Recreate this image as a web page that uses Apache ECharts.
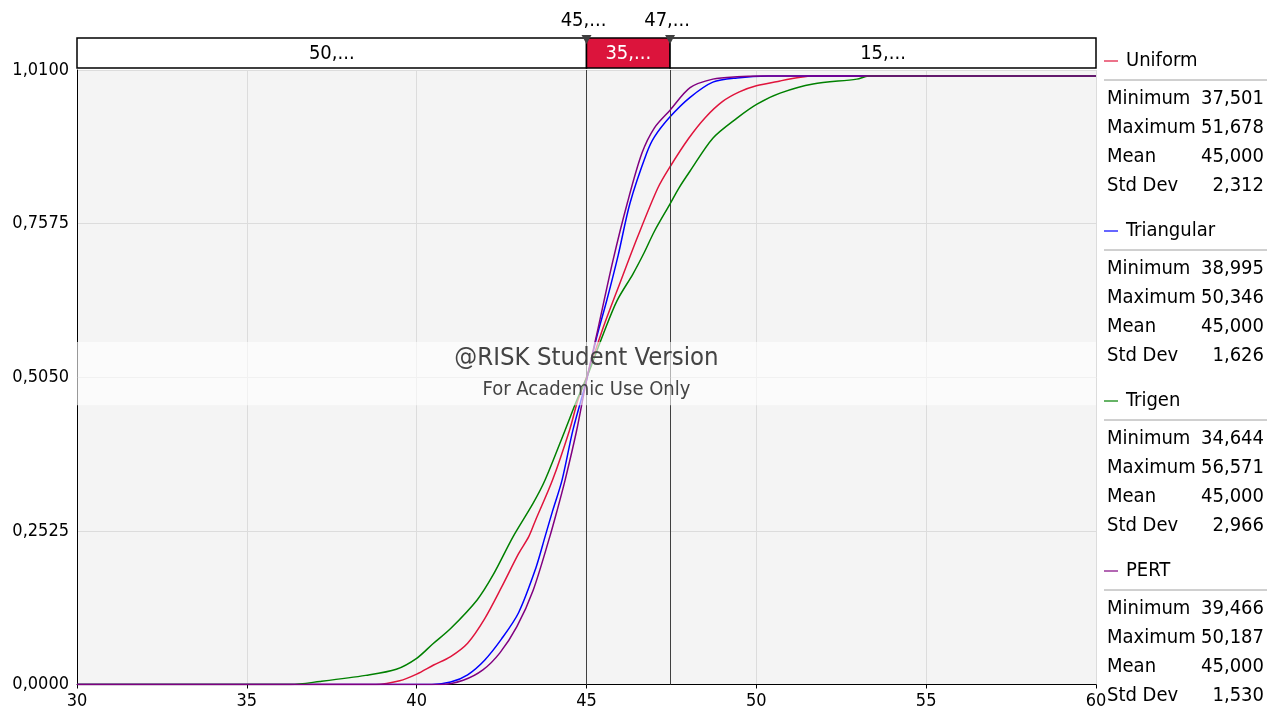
<!DOCTYPE html>
<html>
<head>
<meta charset="utf-8">
<script src="https://cdn.jsdelivr.net/npm/echarts@6/dist/echarts.min.js"></script>
<style>html,body{margin:0;padding:0;background:#fff}#c{width:1277px;height:717px}</style>
</head>
<body>
<div id="c"></div>
<script>
// ---- Data ----
const seriesNames = ['Uniform', 'Triangular', 'Trigen', 'PERT'];
const seriesColors = ['#E0143C', '#0000FF', '#008000', '#800080'];

const uniformX = [30, 38.8, 39.5, 40.0, 40.5, 41.0, 41.5, 42.0, 42.5, 43.0, 43.3, 43.5, 44.0, 44.5, 44.75, 45.0, 45.5, 46.0, 46.5, 47.1, 47.46, 48.0, 48.5, 49.0, 49.5, 50.0, 50.7, 51.3, 51.68, 60];
const uniformY = [0, 0, 0.006, 0.017, 0.032, 0.046, 0.068, 0.108, 0.16, 0.215, 0.243, 0.27, 0.336, 0.418, 0.468, 0.505, 0.588, 0.662, 0.735, 0.816, 0.851, 0.897, 0.932, 0.958, 0.974, 0.984, 0.992, 0.998, 1.0, 1.0];

const triangularX = [30, 40.45, 41.0, 41.5, 42.0, 42.5, 43.0, 43.5, 43.78, 44.0, 44.28, 44.6, 45.0, 45.3, 45.6, 45.93, 46.28, 46.77, 47.0, 47.46, 48.05, 48.72, 49.43, 50.35, 60];
const triangularY = [0, 0, 0.004, 0.016, 0.04, 0.075, 0.118, 0.19, 0.243, 0.285, 0.336, 0.418, 0.5, 0.571, 0.632, 0.705, 0.791, 0.873, 0.9, 0.933, 0.965, 0.99, 0.997, 1.0, 1.0];

const trigenX = [30, 36.3, 37.15, 38.5, 39.4, 40.0, 40.48, 41.0, 41.78, 42.25, 42.84, 43.43, 43.78, 44.37, 44.72, 45.01, 45.5, 45.9, 46.37, 46.7, 47.0, 47.46, 47.72, 48.05, 48.72, 49.43, 50.02, 50.7, 51.67, 52.96, 53.3, 56.57, 60];
const trigenY = [0, 0, 0.005, 0.015, 0.025, 0.043, 0.067, 0.092, 0.139, 0.18, 0.243, 0.298, 0.336, 0.418, 0.468, 0.505, 0.577, 0.631, 0.675, 0.71, 0.745, 0.79, 0.816, 0.844, 0.898, 0.931, 0.954, 0.972, 0.987, 0.995, 1.0, 1.0, 1.0];

const pertX = [30, 40.7, 41.37, 41.95, 42.45, 42.95, 43.43, 43.92, 44.13, 44.37, 44.7, 45.0, 45.3, 45.78, 46.2, 46.63, 47.0, 47.46, 48.05, 48.72, 49.43, 50.19, 60];
const pertY = [0, 0, 0.007, 0.024, 0.052, 0.095, 0.155, 0.243, 0.285, 0.336, 0.415, 0.5, 0.575, 0.697, 0.791, 0.873, 0.915, 0.944, 0.981, 0.995, 0.999, 1.0, 1.0];

// Delimiters and band labels
const delimiters = [45.0, 47.46];
const delimiterLabels = ['45,...', '47,...'];
const bandStarts = [30, 45.0, 47.46];
const bandEnds = [45.0, 47.46, 60];
const bandLabels = ['50,...', '35,...', '15,...'];

// Statistics panel
const statNames = ['Minimum', 'Maximum', 'Mean', 'Std Dev'];
const statMin = ['37,501', '38,995', '34,644', '39,466'];
const statMax = ['51,678', '50,346', '56,571', '50,187'];
const statMean = ['45,000', '45,000', '45,000', '45,000'];
const statStd = ['2,312', '1,626', '2,966', '1,530'];

// Axis ticks
const xMin = 30, xMax = 60, xStep = 5;
const yMin = 0, yMax = 1.01, yStep = 0.2525;

// Watermark band
const watermarkLow = 0.459, watermarkHigh = 0.563;
const watermarkTitle = '@RISK Student Version';
const watermarkSub = 'For Academic Use Only';

// ---- Chart ----
const FONT = "'DejaVu Sans Condensed', 'DejaVu Sans', sans-serif";
const zip = (xs, ys) => xs.map((x, i) => [x, ys[i]]);
const seriesData = [zip(uniformX, uniformY), zip(triangularX, triangularY), zip(trigenX, trigenY), zip(pertX, pertY)];

const chart = echarts.init(document.getElementById('c'), null, { renderer: 'canvas' });

const lineSeries = seriesNames.map((n, i) => ({
  name: n,
  type: 'line',
  xAxisIndex: 0, yAxisIndex: 0,
  data: seriesData[i],
  showSymbol: false,
  symbol: 'none',
  smooth: 0.3,
  lineStyle: { color: seriesColors[i], width: 1.5 },
  z: 3 + i
}));

// statistics panel graphics
const graphics = [];
const blockTop = 61, blockStep = 170;
seriesNames.forEach((n, i) => {
  const y0 = blockTop + i * blockStep;
  graphics.push({ type: 'line', shape: { x1: 1104, y1: y0, x2: 1118, y2: y0 }, style: { stroke: seriesColors[i], lineWidth: 1.2 } });
  graphics.push({ type: 'text', x: 1126, y: y0, style: { text: n, font: '20px ' + FONT, fill: '#000', textVerticalAlign: 'middle', textAlign: 'left' } });
  graphics.push({ type: 'line', shape: { x1: 1104, y1: y0 + 19, x2: 1267, y2: y0 + 19 }, style: { stroke: '#a0a0a0', lineWidth: 1 } });
  const vals = [statMin[i], statMax[i], statMean[i], statStd[i]];
  statNames.forEach((s, j) => {
    const yy = y0 + 38 + j * 29;
    graphics.push({ type: 'text', x: 1107, y: yy, style: { text: s, font: '20px ' + FONT, fill: '#000', textVerticalAlign: 'middle', textAlign: 'left' } });
    graphics.push({ type: 'text', x: 1264, y: yy, style: { text: vals[j], font: '20px ' + FONT, fill: '#000', textVerticalAlign: 'middle', textAlign: 'right' } });
  });
});

const option = {
  animation: false,
  backgroundColor: '#fff',
  textStyle: { fontFamily: FONT },
  grid: [
    { left: 77, right: 181, top: 70, bottom: 32.5, show: true, backgroundColor: '#f4f4f4', borderWidth: 0 },
    { left: 77, right: 181, top: 38, height: 30, show: false }
  ],
  xAxis: [
    {
      gridIndex: 0, type: 'value', min: xMin, max: xMax, interval: xStep,
      axisLine: { show: true, lineStyle: { color: '#000', width: 1 } },
      axisTick: { show: true, length: 4, lineStyle: { color: '#000' } },
      axisLabel: { fontSize: 18, color: '#000', margin: 8, fontFamily: FONT },
      splitLine: { show: true, lineStyle: { color: '#dcdcdc', width: 1 } }
    },
    { gridIndex: 1, type: 'value', min: xMin, max: xMax, show: false }
  ],
  yAxis: [
    {
      gridIndex: 0, type: 'value', min: yMin, max: yMax, interval: yStep,
      axisLine: { show: true, lineStyle: { color: '#000', width: 1 } },
      axisTick: { show: false },
      axisLabel: { fontSize: 18, color: '#000', margin: 8, fontFamily: FONT,
        formatter: v => v.toFixed(4).replace('.', ',') },
      splitLine: { show: true, lineStyle: { color: '#dcdcdc', width: 1 } }
    },
    { gridIndex: 1, type: 'value', min: 0, max: 1, show: false }
  ],
  series: [
    // delimiter lines
    {
      type: 'line', xAxisIndex: 0, yAxisIndex: 0, data: [], z: 2,
      markLine: {
        silent: true, symbol: 'none', animation: false,
        label: { show: false },
        lineStyle: { color: '#404040', width: 1, type: 'solid' },
        data: delimiters.map(d => ({ xAxis: d }))
      }
    },
    ...lineSeries,
    // watermark
    {
      type: 'line', xAxisIndex: 0, yAxisIndex: 0, data: [], z: 20,
      markArea: {
        silent: true, z: 20,
        itemStyle: { color: 'rgba(255,255,255,0.6)', borderWidth: 0 },
        label: {
          show: true, position: 'inside',
          formatter: '{a|' + watermarkTitle + '}\n{b|' + watermarkSub + '}',
          rich: {
            a: { fontSize: 25.5, color: '#444', fontFamily: FONT, lineHeight: 32 },
            b: { fontSize: 20, color: '#444', fontFamily: FONT, lineHeight: 30 }
          }
        },
        data: [[{ xAxis: xMin, yAxis: watermarkLow }, { xAxis: xMax, yAxis: watermarkHigh }]]
      }
    },
    // top band
    {
      type: 'custom', xAxisIndex: 1, yAxisIndex: 1, z: 30,
      data: bandLabels.map((l, i) => [bandStarts[i], bandEnds[i], l, i === 1 ? 1 : 0]),
      renderItem: (params, api) => {
        const p0 = api.coord([api.value(0), 1]);
        const p1 = api.coord([api.value(1), 0]);
        const hi = api.value(3) === 1;
        return {
          type: 'group',
          children: [
            { type: 'rect', shape: { x: p0[0], y: p0[1], width: p1[0] - p0[0], height: p1[1] - p0[1] },
              style: { fill: hi ? '#DC143C' : '#fff', stroke: '#000', lineWidth: 1.5 } },
            { type: 'text', x: (p0[0] + p1[0]) / 2, y: (p0[1] + p1[1]) / 2 + 1,
              style: { text: bandLabels[params.dataIndex], textAlign: 'center', textVerticalAlign: 'middle',
                font: '20px ' + FONT, fill: hi ? '#fff' : '#000' } }
          ]
        };
      }
    },
    // delimiter markers above band
    {
      type: 'custom', xAxisIndex: 1, yAxisIndex: 1, z: 31,
      data: delimiters.map((d, i) => [d, i]),
      renderItem: (params, api) => {
        const p = api.coord([api.value(0), 1]);
        return {
          type: 'group',
          children: [
            { type: 'polygon', shape: { points: [[p[0] - 5, p[1] - 3], [p[0] + 5, p[1] - 3], [p[0], p[1] + 6]] },
              style: { fill: '#404040' } },
            { type: 'text', x: p[0] - 3, y: p[1] - 17,
              style: { text: delimiterLabels[params.dataIndex], textAlign: 'center', textVerticalAlign: 'middle',
                font: '20px ' + FONT, fill: '#000' } }
          ]
        };
      }
    }
  ],
  graphic: graphics
};
chart.setOption(option);
</script>
</body>
</html>
